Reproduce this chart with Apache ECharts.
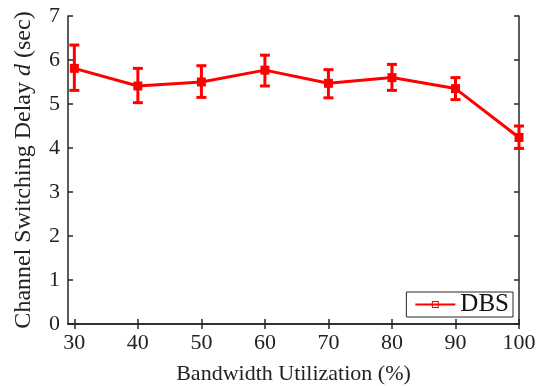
<!DOCTYPE html>
<html><head><meta charset="utf-8">
<script src="https://cdn.jsdelivr.net/npm/echarts@6/dist/echarts.min.js"></script>
<style>html,body{margin:0;padding:0;background:#fff}#c{width:542px;height:386px}</style>
</head><body><div id="c"></div>
<script>
const utilization = [30, 40, 50, 60, 70, 80, 90, 100];
const delayMean  = [5.81, 5.41, 5.50, 5.77, 5.47, 5.60, 5.35, 4.24];
const delayLow   = [5.31, 5.03, 5.15, 5.41, 5.14, 5.31, 5.10, 3.99];
const delayHigh  = [6.34, 5.81, 5.87, 6.11, 5.78, 5.90, 5.60, 4.50];
const xTicks = [30, 40, 50, 60, 70, 80, 90, 100];
const seriesName = 'DBS';

const RED = '#ff0000';
const AX = '#262626';
const FONT = 'Liberation Serif';
const chart = echarts.init(document.getElementById('c'));
const lineData = utilization.map((u, i) => [u, delayMean[i]]);
const errData = utilization.map((u, i) => [u, delayLow[i], delayHigh[i]]);
const axisCommon = {
  axisLine: {show: true, lineStyle: {color: AX, width: 1.5}},
  axisTick: {show: true, inside: true, length: 5, lineStyle: {color: AX, width: 1.5}},
  splitLine: {show: false}
};
const legendIcon = 'path://M0,4.1 L40,4.1 L40,5.9 L0,5.9 Z M16.5,1.5 L23.5,1.5 L23.5,8.5 L16.5,8.5 Z M17.5,2.5 L17.5,7.5 L22.5,7.5 L22.5,2.5 Z';
chart.setOption({
  animation: false,
  backgroundColor: '#fff',
  grid: {left: 68, right: 23, top: 16, bottom: 62, containLabel: false, outerBoundsMode: 'none'},
  legend: {
    show: true, right: 29, bottom: 69, orient: 'horizontal',
    data: [{name: seriesName, icon: legendIcon, itemStyle: {color: RED}}],
    backgroundColor: '#fff', borderColor: AX, borderWidth: 1, borderRadius: 0,
    padding: [0, 4, 0, 9], itemWidth: 40, itemHeight: 10, itemGap: 4,
    textStyle: {fontFamily: FONT, fontSize: 25, color: '#111'}
  },
  xAxis: [
    Object.assign({}, axisCommon, {
      type: 'value', min: 29, max: 100, position: 'bottom',
      name: 'Bandwidth Utilization (%)', nameLocation: 'middle', nameGap: 39,
      nameTextStyle: {fontFamily: FONT, fontSize: 22, color: '#222'},
      axisTick: Object.assign({}, axisCommon.axisTick, {customValues: xTicks}),
      axisLabel: {customValues: xTicks, fontFamily: FONT, fontSize: 22, color: '#222', margin: 8}
    }),
    Object.assign({}, axisCommon, {
      type: 'value', min: 29, max: 100, position: 'top',
      axisTick: Object.assign({}, axisCommon.axisTick, {customValues: xTicks}),
      axisLabel: {show: false}
    })
  ],
  yAxis: [
    Object.assign({}, axisCommon, {
      type: 'value', min: 0, max: 7, interval: 1, position: 'left',
      name: '{a|Channel Switching Delay }{i|d}{a| (sec)}',
      nameLocation: 'middle', nameGap: 32, nameRotate: 90,
      nameTextStyle: {rich: {
        a: {fontFamily: FONT, fontSize: 24, color: '#222'},
        i: {fontFamily: FONT, fontSize: 24, fontStyle: 'italic', color: '#222'}
      }},
      axisLabel: {fontFamily: FONT, fontSize: 22, color: '#222', margin: 8}
    }),
    Object.assign({}, axisCommon, {
      type: 'value', min: 0, max: 7, interval: 1, position: 'right',
      axisLabel: {show: false}
    })
  ],
  series: [
    {
      type: 'custom', name: 'err', xAxisIndex: 0, yAxisIndex: 0,
      data: errData, silent: true, z: 3,
      encode: {x: 0, y: [1, 2]},
      renderItem: function (params, api) {
        const x = api.value(0);
        const lo = api.coord([x, api.value(1)]);
        const hi = api.coord([x, api.value(2)]);
        const hw = 5;
        const st = {stroke: RED, lineWidth: 3};
        return {type: 'group', children: [
          {type: 'line', shape: {x1: lo[0], y1: lo[1], x2: hi[0], y2: hi[1]}, style: st},
          {type: 'line', shape: {x1: lo[0] - hw, y1: lo[1], x2: lo[0] + hw, y2: lo[1]}, style: st},
          {type: 'line', shape: {x1: hi[0] - hw, y1: hi[1], x2: hi[0] + hw, y2: hi[1]}, style: st}
        ]};
      }
    },
    {
      type: 'line', name: seriesName, xAxisIndex: 0, yAxisIndex: 0,
      data: lineData, z: 4,
      symbol: 'rect', symbolSize: 9, showAllSymbol: true,
      lineStyle: {color: RED, width: 3},
      itemStyle: {color: RED, borderColor: RED, borderWidth: 0}
    }
  ]
});
</script></body></html>
